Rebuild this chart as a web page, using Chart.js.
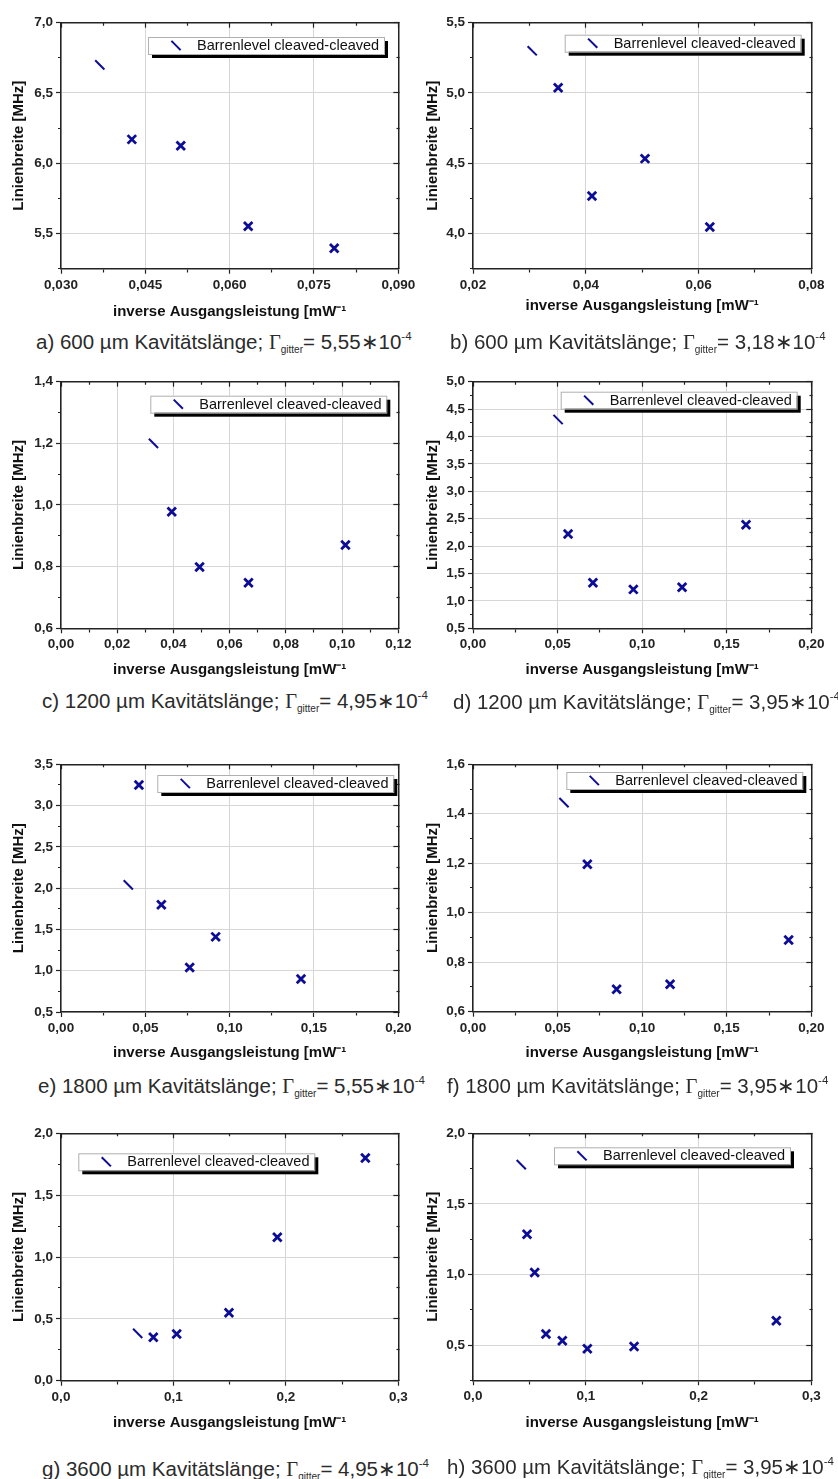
<!DOCTYPE html>
<html>
<head>
<meta charset="utf-8">
<script src="https://cdn.jsdelivr.net/npm/chart.js@4.4.0/dist/chart.umd.min.js"></script>
<style>
body{margin:0;background:#fff;width:838px;height:1479px;position:relative;overflow:hidden}
.pan{position:absolute}
.cap{position:absolute;font:20.5px 'Liberation Sans',Arial,sans-serif;color:#2b2b2b;white-space:nowrap;line-height:24px}
.cap .gam{font-family:'Liberation Serif','Times New Roman',serif}
.cap sub{font-size:10px;vertical-align:-4px;line-height:0}
.cap sup{font-size:11.5px;vertical-align:9px;line-height:0}
</style>
</head>
<body>
<script>
// values: inverse output power vs. linewidth
const xA = [0.0369, 0.0426, 0.0513, 0.0633, 0.0786];
const yA = [6.70, 6.17, 6.125, 5.552, 5.395];
const xB = [0.0305, 0.0351, 0.0411, 0.0505, 0.0620];
const yB = [5.30, 5.038, 4.267, 4.533, 4.047];
const xC = [0.0329, 0.0394, 0.0493, 0.0667, 0.1012];
const yC = [1.20, 0.978, 0.799, 0.748, 0.870];
const xD = [0.0503, 0.0562, 0.0709, 0.0948, 0.1236, 0.1614];
const yD = [4.31, 2.22, 1.33, 1.21, 1.25, 2.39];
const xE = [0.0399, 0.0462, 0.0595, 0.0763, 0.0917, 0.1423];
const yE = [2.04, 3.25, 1.80, 1.04, 1.41, 0.90];
const xF = [0.0538, 0.0676, 0.0849, 0.1165, 0.1866];
const yF = [1.445, 1.196, 0.691, 0.711, 0.890];
const xG = [0.0682, 0.0821, 0.1029, 0.1494, 0.1924, 0.2707];
const yG = [0.383, 0.351, 0.378, 0.550, 1.159, 1.800];
const xH = [0.0428, 0.0479, 0.0547, 0.0647, 0.0792, 0.1014, 0.1428, 0.269];
const yH = [1.778, 1.285, 1.014, 0.578, 0.530, 0.474, 0.490, 0.672];

// major tick values
const xTicksA = [0.030, 0.045, 0.060, 0.075, 0.090];
const xTicksB = [0.02, 0.04, 0.06, 0.08];
const xTicksC = [0.00, 0.02, 0.04, 0.06, 0.08, 0.10, 0.12];
const xTicks020 = [0.00, 0.05, 0.10, 0.15, 0.20];
const xTicks03 = [0.0, 0.1, 0.2, 0.3];
const yTicksA = [5.5, 6.0, 6.5, 7.0];
const yTicksB = [4.0, 4.5, 5.0, 5.5];
const yTicksC = [0.6, 0.8, 1.0, 1.2, 1.4];
const yTicksD = [0.5, 1.0, 1.5, 2.0, 2.5, 3.0, 3.5, 4.0, 4.5, 5.0];
const yTicksE = [0.5, 1.0, 1.5, 2.0, 2.5, 3.0, 3.5];
const yTicksF = [0.6, 0.8, 1.0, 1.2, 1.4, 1.6];
const yTicksG = [0.0, 0.5, 1.0, 1.5, 2.0];
const yTicksH = [0.5, 1.0, 1.5, 2.0];
const yRanges = [[5.25, 7.0], [3.75, 5.5], [0.6, 1.4], [0.5, 5.0], [0.5, 3.5], [0.6, 1.6], [0.0, 2.0], [0.25, 2.0]];

const seriesLabel = 'Barrenlevel cleaved-cleaved';
const xTitle = 'inverse Ausgangsleistung [mW\u207B\u00B9';
const yTitle = 'Linienbreite [MHz]';
const capLetters = ['a', 'b', 'c', 'd', 'e', 'f', 'g', 'h'];
const capLength = ['600', '600', '1200', '1200', '1800', '1800', '3600', '3600'];
const capGamma = ['5,55', '3,18', '4,95', '3,95', '5,55', '3,95', '4,95', '3,95'];

Chart.defaults.font.family = "'Liberation Sans', Arial, sans-serif";
const INK = '#232323', GRID = '#d6d6d6', MARK = '#0c0c96';

// layout of the 2x4 grid
const cols = [
  {left: 0, wy: 61, ytp: 10, right: 398.3},
  {left: 418, wy: 55, ytp: 5.5, right: 393.3}
];
const panels = [
  {x: xA, y: yA, xt: xTicksA, yt: yTicksA, xd: 3, col: 0, top: 22.7, bot: 268.7, tt: 311.7, lg: [87, 14.3], cx: 36, cy: 329.5},
  {x: xB, y: yB, xt: xTicksB, yt: yTicksB, xd: 2, col: 1, top: 22.7, bot: 268.7, tt: 306, lg: [91.7, 12], cx: 450, cy: 330},
  {x: xC, y: yC, xt: xTicksC, yt: yTicksC, xd: 2, col: 0, top: 381.7, bot: 628.3, tt: 670, lg: [89.3, 14], cx: 42, cy: 688.5},
  {x: xD, y: yD, xt: xTicks020, yt: yTicksD, xd: 2, col: 1, top: 381.7, bot: 628.3, tt: 670, lg: [87.7, 10], cx: 453, cy: 690},
  {x: xE, y: yE, xt: xTicks020, yt: yTicksE, xd: 2, col: 0, top: 764.3, bot: 1012, tt: 1053, lg: [96.3, 10.7], cx: 38, cy: 1073.5},
  {x: xF, y: yF, xt: xTicks020, yt: yTicksF, xd: 2, col: 1, top: 764.3, bot: 1011.7, tt: 1053, lg: [93.3, 7.7], cx: 447, cy: 1073.5},
  {x: xG, y: yG, xt: xTicks03, yt: yTicksG, xd: 1, col: 0, top: 1133.3, bot: 1380.7, tt: 1423, lg: [17.3, 20], cx: 42, cy: 1456.5},
  {x: xH, y: yH, xt: xTicks03, yt: yTicksH, xd: 1, col: 1, top: 1133.3, bot: 1380.3, tt: 1423, lg: [81, 14], cx: 447, cy: 1455}
];

function allTicks(majors, lo, hi) {
  const half = (majors[1] - majors[0]) / 2;
  const out = [];
  let v = majors[0];
  while (v - half >= lo - 1e-9) v -= half;
  for (; v <= hi + 1e-9; v += half) out.push(Math.round(v * 1e6) / 1e6);
  return out;
}
const isMajor = (v, majors) => majors.some(m => Math.abs(m - v) < 1e-7);
const fmt = (v, d) => v.toFixed(d).replace('.', ',');

// white legend box with black drop shadow, like the Origin export
const legendBox = {
  id: 'legendBox',
  afterDraw(chart, args, opts) {
    const {ctx, chartArea} = chart;
    const x = chartArea.left + opts.dx, y = chartArea.top + opts.dy, w = 236, h = 17;
    ctx.save();
    ctx.fillStyle = '#000';
    ctx.fillRect(x + 4, y + 4, w, h);
    ctx.fillStyle = '#fff';
    ctx.fillRect(x, y, w, h);
    ctx.strokeStyle = '#b0b0b0';
    ctx.lineWidth = 1;
    ctx.strokeRect(x + 0.5, y + 0.5, w, h);
    const o = chart.getDatasetMeta(0).data[0].options;
    ctx.strokeStyle = o.borderColor;
    ctx.fillStyle = o.backgroundColor;
    ctx.lineWidth = o.borderWidth;
    Chart.helpers.drawPoint(ctx, {pointStyle: o.pointStyle, rotation: o.rotation, radius: o.radius, borderWidth: o.borderWidth}, x + 28, y + h / 2);
    ctx.fillStyle = '#111';
    ctx.font = "14.5px 'Liberation Sans', Arial, sans-serif";
    ctx.textBaseline = 'middle';
    ctx.fillText(chart.data.datasets[0].label, x + 49, y + h / 2 + 0.5);
    ctx.restore();
  }
};

panels.forEach((p, i) => {
  const c = cols[p.col];
  const xr = [p.xt[0], p.xt[p.xt.length - 1]];
  const yr = yRanges[i];
  const xv = allTicks(p.xt, xr[0], xr[1]);
  const yv = allTicks(p.yt, yr[0], yr[1]);
  const top = Math.floor(p.top) - 22;
  const W = 419;
  const H = Math.ceil(p.tt + 9 - top) + 2;
  const axH = p.tt + 9 - p.bot;

  const div = document.createElement('div');
  div.className = 'pan';
  div.style.left = c.left + 'px';
  div.style.top = top + 'px';
  const cv = document.createElement('canvas');
  cv.width = W; cv.height = H;
  cv.style.width = W + 'px'; cv.style.height = H + 'px';
  div.appendChild(cv);
  document.body.appendChild(div);

  const cap = document.createElement('div');
  cap.className = 'cap';
  cap.style.left = p.cx + 'px';
  cap.style.top = p.cy + 'px';
  cap.innerHTML = capLetters[i] + ') ' + capLength[i] + ' \u00B5m Kavit\u00E4tsl\u00E4nge; <span class="gam">\u0393</span><sub>gitter</sub>= ' +
    capGamma[i] + '\u221710<sup>-4</sup>';
  document.body.appendChild(cap);

  const xMaj = c2 => c2.tick && isMajor(c2.tick.value, p.xt);
  const yMaj = c2 => c2.tick && isMajor(c2.tick.value, p.yt);
  const tickFont = {size: 13.5, weight: 'bold'};
  const titleFont = {size: 15, weight: 'bold'};

  new Chart(cv, {
    type: 'scatter',
    data: {
      datasets: [{
        label: seriesLabel,
        data: p.x.map((x, j) => ({x: x, y: p.y[j]})),
        showLine: false,
        borderColor: MARK,
        backgroundColor: MARK,
        pointStyle: ctx => ctx.dataIndex === 0 ? 'line' : 'crossRot',
        pointRotation: ctx => ctx.dataIndex === 0 ? 45 : 0,
        pointRadius: ctx => ctx.dataIndex === 0 ? 6.5 : 6,
        pointHoverRadius: ctx => ctx.dataIndex === 0 ? 6.5 : 6,
        pointBorderWidth: ctx => ctx.dataIndex === 0 ? 2 : 2.8
      }]
    },
    options: {
      responsive: false,
      animation: false,
      events: [],
      layout: {padding: {left: 0, top: p.top - top, right: W - c.right, bottom: H - (p.tt + 9 - top)}},
      plugins: {
        legend: {display: false},
        tooltip: {enabled: false},
        legendBox: {dx: p.lg[0], dy: p.lg[1]}
      },
      scales: {
        x: {
          type: 'linear', position: 'bottom', min: xr[0], max: xr[1],
          afterBuildTicks: s => { s.ticks = xv.map(v => ({value: v})); },
          afterFit: s => { s.height = axH; },
          ticks: {autoSkip: false, maxRotation: 0, padding: 3, font: tickFont, color: INK,
            callback: v => isMajor(v, p.xt) ? fmt(v, p.xd) : ''},
          grid: {color: ctx => xMaj(ctx) ? GRID : 'rgba(0,0,0,0)', lineWidth: 1, tickLength: 5,
            tickColor: INK, tickWidth: 1.2, tickBorderDash: ctx => xMaj(ctx) ? [] : [3, 40]},
          border: {color: INK, width: 1.5},
          title: {display: true, text: xTitle, font: titleFont, color: '#111', padding: {top: 0, bottom: 0}}
        },
        y: {
          type: 'linear', position: 'left', min: yr[0], max: yr[1],
          afterBuildTicks: s => { s.ticks = yv.map(v => ({value: v})); },
          afterFit: s => { s.width = c.wy; },
          ticks: {autoSkip: false, padding: 3, font: tickFont, color: INK,
            callback: v => isMajor(v, p.yt) ? fmt(v, 1) : ''},
          grid: {color: ctx => yMaj(ctx) ? GRID : 'rgba(0,0,0,0)', lineWidth: 1, tickLength: 5,
            tickColor: INK, tickWidth: 1.2, tickBorderDash: ctx => yMaj(ctx) ? [] : [0, 2, 3, 40]},
          border: {color: INK, width: 1.5},
          title: {display: true, text: yTitle, font: titleFont, color: '#111', padding: {top: c.ytp, bottom: 0}}
        },
        x2: {
          type: 'linear', position: 'top', min: xr[0], max: xr[1],
          afterBuildTicks: s => { s.ticks = xv.map(v => ({value: v})); },
          afterFit: s => { s.height = 0; },
          ticks: {display: false},
          grid: {drawOnChartArea: false, tickLength: -5, tickColor: INK, tickWidth: 1.2,
            tickBorderDash: ctx => xMaj(ctx) ? [] : [0, 2, 3, 40]},
          border: {color: INK, width: 1.5}
        },
        y2: {
          type: 'linear', position: 'right', min: yr[0], max: yr[1],
          afterBuildTicks: s => { s.ticks = yv.map(v => ({value: v})); },
          afterFit: s => { s.width = 0; },
          ticks: {display: false},
          grid: {drawOnChartArea: false, tickLength: -5, tickColor: INK, tickWidth: 1.2,
            tickBorderDash: ctx => yMaj(ctx) ? [] : [3, 40]},
          border: {color: INK, width: 1.5}
        }
      }
    },
    plugins: [legendBox]
  });
});
</script>
</body>
</html>
